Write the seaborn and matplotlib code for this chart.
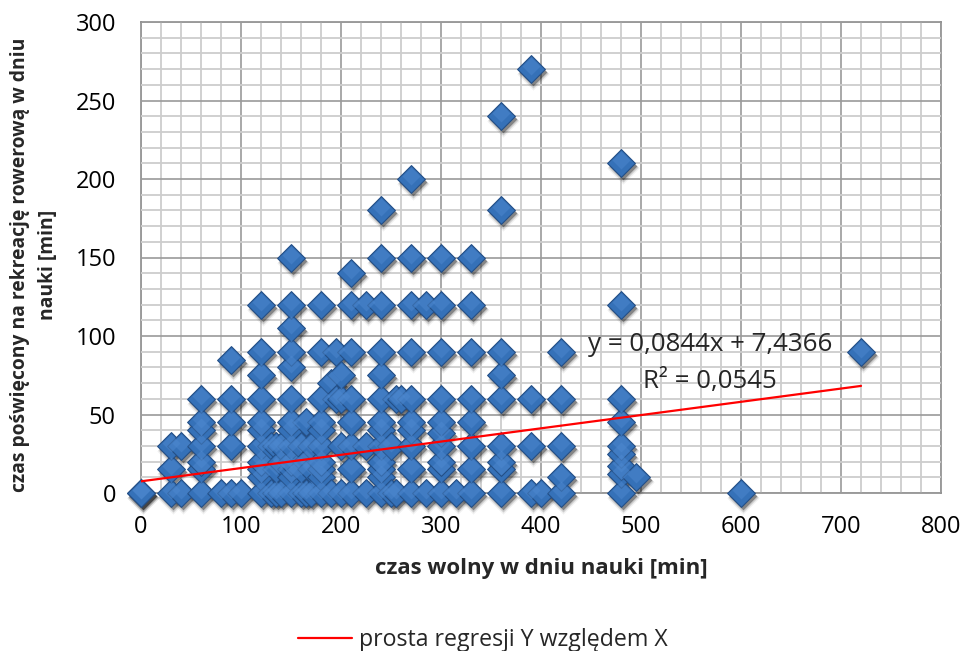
import numpy as np
import pandas as pd
import matplotlib
matplotlib.use("Agg")
import matplotlib.pyplot as plt
from matplotlib.ticker import MultipleLocator
from matplotlib.transforms import offset_copy
from matplotlib.lines import Line2D
import seaborn as sns

# Free time on a school day [min] and time spent cycling for recreation [min]
free_time = [
    0, 0,
    30, 30, 30,
    40, 40,
    60, 60, 60, 60, 60, 60, 60,
    80,
    90, 90, 90, 90, 90,
    100,
    120, 120, 120, 120, 120, 120, 120, 120, 120, 120, 120,
    130, 130,
    135, 135, 135,
    140, 140, 140,
    150, 150, 150, 150, 150, 150, 150, 150, 150, 150, 150, 150, 150,
    160, 160, 160,
    165, 165, 165,
    170, 170, 170,
    180, 180, 180, 180, 180, 180, 180, 180, 180, 180,
    190, 190,
    195, 195,
    200, 200, 200, 200,
    210, 210, 210, 210, 210, 210, 210, 210,
    225, 225, 225,
    240, 240, 240, 240, 240, 240, 240, 240, 240, 240, 240, 240, 240,
    250, 250,
    255, 255,
    260,
    270, 270, 270, 270, 270, 270, 270, 270, 270, 270,
    285, 285,
    300, 300, 300, 300, 300, 300, 300, 300, 300, 300,
    315,
    330, 330, 330, 330, 330, 330, 330, 330,
    360, 360, 360, 360, 360, 360, 360, 360, 360,
    390, 390, 390, 390,
    400,
    420, 420, 420, 420, 420,
    480, 480, 480, 480, 480, 480, 480, 480, 480,
    495,
    600,
    720,
]
cycling_time = [
    0, 0,
    0, 15, 30,
    0, 30,
    0, 15, 20, 30, 40, 45, 60,
    0,
    0, 30, 45, 60, 85,
    0,
    0, 10, 15, 20, 30, 40, 45, 60, 75, 90, 120,
    0, 30,
    0, 15, 30,
    0, 20, 30,
    0, 10, 15, 20, 30, 40, 45, 60, 80, 90, 105, 120, 150,
    0, 15, 30,
    0, 20, 45,
    0, 15, 30,
    0, 10, 15, 20, 30, 40, 45, 60, 90, 120,
    0, 70,
    60, 90,
    0, 30, 60, 75,
    0, 15, 30, 45, 60, 90, 120, 140,
    0, 30, 120,
    0, 10, 15, 20, 30, 40, 45, 60, 75, 90, 120, 150, 180,
    0, 30,
    0, 60,
    60,
    0, 15, 30, 40, 45, 60, 90, 120, 150, 200,
    0, 120,
    0, 15, 20, 30, 38, 45, 60, 90, 120, 150,
    0,
    0, 15, 30, 45, 60, 90, 120, 150,
    0, 15, 20, 30, 60, 75, 90, 180, 240,
    0, 30, 60, 270,
    0,
    0, 10, 30, 60, 90,
    0, 12, 17, 25, 30, 45, 60, 120, 210,
    10,
    0,
    90,
]

# Trend line as reported by the fitted equation
slope = 0.0844
intercept = 7.4366
r_squared = 0.0545

x_ticks = [0, 100, 200, 300, 400, 500, 600, 700, 800]
y_ticks = [0, 50, 100, 150, 200, 250, 300]

df = pd.DataFrame({"free": free_time, "bike": cycling_time})

sns.set_theme(style="white")
plt.rcParams["font.family"] = ["Open Sans", "DejaVu Sans"]

W, H = 961, 651
fig = plt.figure(figsize=(W / 100, H / 100), dpi=100)
ax = fig.add_axes([141 / W, 1 - 493 / H, 800 / W, 471 / H])

ax.set_xlim(x_ticks[0], x_ticks[-1])
ax.set_ylim(y_ticks[0], y_ticks[-1])
ax.set_xticks(x_ticks)
ax.set_yticks(y_ticks)
ax.xaxis.set_minor_locator(MultipleLocator(20))
ax.yaxis.set_minor_locator(MultipleLocator(10))

ax.set_axisbelow(True)
ax.grid(which="minor", color="#cdcdcd", lw=1.3)
ax.grid(which="major", color="#9a9a9a", lw=1.2)
for side, sp in ax.spines.items():
    sp.set_color("#8c8c8c")
    sp.set_linewidth(1.2)
    sp.set_zorder(0.5)

ax.tick_params(which="major", direction="out", length=6, width=1.2,
               color="#8c8c8c", labelsize=17, labelcolor="black")
ax.tick_params(axis="y", pad=12)
ax.tick_params(axis="x", pad=10)
ax.tick_params(which="minor", length=0)

size = 200

# soft drop shadow under each marker
for dy, grow, a in [(-3, 1.0, 0.34), (-4, 1.18, 0.15), (-5, 1.35, 0.06)]:
    tr = offset_copy(ax.transData, fig=fig, x=1.5, y=dy, units="dots")
    ax.scatter(df["free"], df["bike"], s=size * grow, marker="D",
               color="black", alpha=a, linewidths=0, transform=tr,
               clip_on=False, zorder=2)

sns.scatterplot(data=df, x="free", y="bike", ax=ax, marker="D", s=size,
                color="#3571b8", edgecolor="#244f86", linewidth=0.8,
                clip_on=False, zorder=3, legend=False)

# lighter upper facet of the markers
tr_hi = offset_copy(ax.transData, fig=fig, x=0, y=3, units="dots")
ax.scatter(df["free"], df["bike"], s=size * 0.42, marker="D",
           color="#4d88cf", alpha=0.5, linewidths=0, transform=tr_hi,
           clip_on=False, zorder=3.5)

# regression line over the observed range of x
xr = np.array([df["free"].min(), df["free"].max()])
sns.lineplot(x=xr, y=slope * xr + intercept, ax=ax, color="#ff0000",
             lw=1.6, zorder=4, legend=False)

def pl(v, nd):
    return f"{v:.{nd}f}".replace(".", ",")

ax.text(569, 94.5, f"y = {pl(slope, 4)}x + {pl(intercept, 4)}",
        ha="center", va="center", fontsize=18.6, zorder=5)
ax.text(569, 71, f"R² = {pl(r_squared, 4)}", ha="center", va="center",
        fontsize=18.6, zorder=5)

ax.set_xlabel("czas wolny w dniu nauki [min]", fontsize=16,
              fontweight="bold")
ax.xaxis.set_label_coords(0.5, -0.138)
ax.set_ylabel("czas poświęcony na rekreację rowerową w dniu\nnauki [min]",
              fontsize=13.9, fontweight="bold", linespacing=1.55)
ax.yaxis.label.set_va("center")
ax.yaxis.set_label_coords(-0.134, 0.484)

handle = Line2D([], [], color="#ff0000", lw=1.6)
fig.legend([handle], ["prosta regresji Y względem X"], loc="center",
           bbox_to_anchor=(483 / W, 1 - 640 / H), frameon=False,
           fontsize=16.7, handlelength=2.3, handletextpad=0.3)

fig.savefig("out.png", dpi=100)
